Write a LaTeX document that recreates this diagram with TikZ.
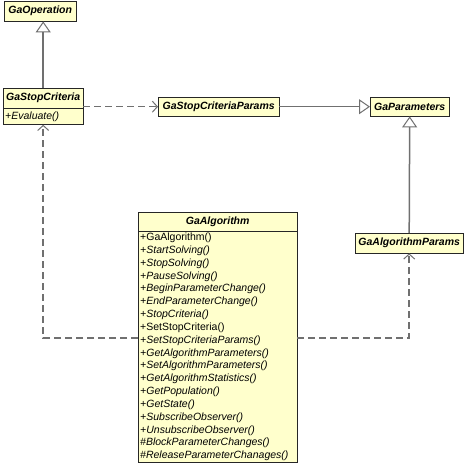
\documentclass[tikz,border=0pt]{standalone}
\usepackage{fontspec}
\setmainfont{Liberation Sans}
\usetikzlibrary{arrows.meta,positioning}
\definecolor{notefill}{RGB}{255,255,204}
\definecolor{linkgray}{RGB}{112,112,112}
\newcommand{\opn}[1]{\strut#1}
\newcommand{\opi}[1]{\strut\textit{#1}}
\tikzset{
 classbox/.style={draw=black!85, fill=notefill, anchor=north west, minimum height=19pt,
   inner sep=0pt, font=\fontsize{10.5}{12}\selectfont\bfseries\itshape},
 opsbox/.style={draw=black!85, fill=notefill, anchor=north, inner xsep=2pt, inner ysep=0pt,
   align=left, font=\fontsize{10.5}{12.83}\selectfont},
 gen/.style={draw=linkgray, line width=1.5pt,
   -{Triangle[fill=white, length=11pt, width=15pt, line width=1pt]}},
 dep/.style={draw=linkgray, line width=1.5pt, dash pattern=on 7pt off 4pt,
   -{Straight Barb[length=5pt, width=11pt, line width=1pt]}}
}
\begin{document}
\begin{tikzpicture}[x=1pt,y=-1pt]
\useasboundingbox (0,0) rectangle (466,465);
\node[classbox, minimum width=72pt, minimum height=20pt] (op) at (4,1) {GaOperation};
\node[classbox, minimum width=80pt, minimum height=20pt] (sch) at (3,88) {GaStopCriteria};
\node[opsbox, text width=76pt, minimum height=16pt, below=0pt of sch] (scb) {\opi{+Evaluate()}};
\node[classbox, minimum width=121pt] (scp) at (158,97) {GaStopCriteriaParams};
\node[classbox, minimum width=79pt] (par) at (370,97) {GaParameters};
\node[classbox, minimum width=108pt, minimum height=20pt] (ap) at (355,233) {GaAlgorithmParams};
\node[classbox, minimum width=159pt] (alh) at (138,212) {GaAlgorithm};
\node[opsbox, text width=155pt, below=0pt of alh] (alb) {%
 \opn{+GaAlgorithm()}\\ \opi{+StartSolving()}\\ \opi{+StopSolving()}\\
 \opi{+PauseSolving()}\\ \opi{+BeginParameterChange()}\\ \opi{+EndParameterChange()}\\
 \opi{+StopCriteria()}\\ \opn{+SetStopCriteria()}\\ \opi{+SetStopCriteriaParams()}\\
 \opi{+GetAlgorithmParameters()}\\ \opi{+SetAlgorithmParameters()}\\
 \opi{+GetAlgorithmStatistics()}\\ \opi{+GetPopulation()}\\ \opi{+GetState()}\\
 \opi{+SubscribeObserver()}\\ \opi{+UnsubscribeObserver()}\\
 \opi{\#BlockParameterChanges()}\\ \opi{\#ReleaseParameterChanages()}};
\coordinate (lk) at (0,338); % edit here for the lower links
\draw[gen] (sch.north) -- (sch.north |- op.south);
\draw[gen] (scp.east) -- (par.west);
\draw[gen] (ap.north) -- (par.south);
\draw[dep] (scp.west -| sch.east) -- (scp.west);
\draw[dep] (alb.west |- lk) -| (scb.south);
\draw[dep] (alb.east |- lk) -| (ap.south);
\end{tikzpicture}
\end{document}
